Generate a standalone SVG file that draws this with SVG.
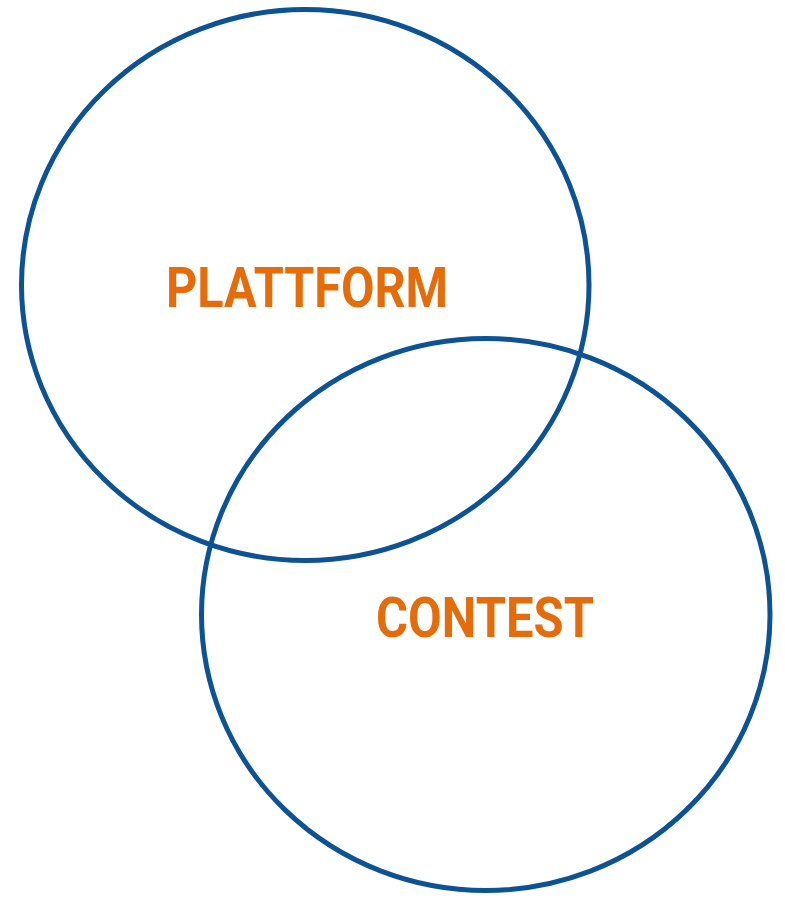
<svg xmlns="http://www.w3.org/2000/svg" width="785" height="898" viewBox="0 0 785 898">
<style>
.ring{fill:none;stroke:#0D5292;stroke-width:5}
.lbl{font-family:Roboto,"Liberation Sans",Arial,sans-serif;font-weight:bold;font-size:55px;fill:#E46C0A}
</style>
<rect width="785" height="898" fill="#ffffff"/>
<g id="platform">
<ellipse class="ring" cx="305.25" cy="285" rx="283.75" ry="275.5"/>
<text class="lbl" x="166" y="307" textLength="282" lengthAdjust="spacingAndGlyphs">PLATTFORM</text>
</g>
<g id="contest">
<ellipse class="ring" cx="485.75" cy="614.5" rx="284.25" ry="276"/>
<text class="lbl" x="376" y="637" textLength="218" lengthAdjust="spacingAndGlyphs">CONTEST</text>
</g>
<g id="connectors"/>
</svg>
